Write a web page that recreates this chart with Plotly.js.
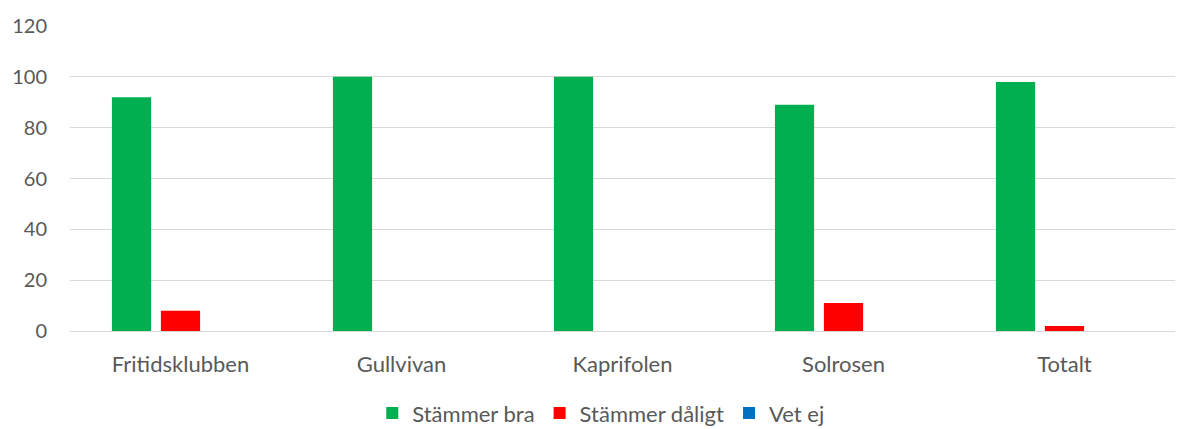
<!DOCTYPE html>
<html><head><meta charset="utf-8">
<script src="https://cdn.plot.ly/plotly-3.0.1.min.js"></script>
<style>html,body{margin:0;padding:0;background:#fff}#chart{width:1178px;height:429px}</style>
</head><body><div id="chart"></div>
<script>
const categories = ["Fritidsklubben", "Gullvivan", "Kaprifolen", "Solrosen", "Totalt"];
const stammerBra = [92, 100, 100, 89, 98];
const stammerDaligt = [8, 0, 0, 11, 2];
const vetEj = [0, 0, 0, 0, 0];
const seriesNames = ["Stämmer bra", "Stämmer dåligt", "Vet ej"];
const seriesColors = ["#00B050", "#FF0000", "#0070C0"];
const yTicks = [0, 20, 40, 60, 80, 100, 120];

const seriesValues = [stammerBra, stammerDaligt, vetEj];
const traces = seriesValues.map((vals, i) => ({
  type: "bar", x: categories, y: vals, name: seriesNames[i],
  marker: {color: seriesColors[i]}, hoverinfo: "none"
}));
const fam = "Lato, 'Open Sans', sans-serif";
const col = "#595959";
Plotly.newPlot("chart", traces, {
  width: 1178, height: 429,
  margin: {l: 70, r: 3, t: 26, b: 98, autoexpand: false},
  paper_bgcolor: "#fff", plot_bgcolor: "#fff",
  font: {family: fam, size: 21, color: col},
  barmode: "group", bargap: 0.335, bargroupgap: 0.2,
  xaxis: {showgrid: false, showline: true, linecolor: "#d9d9d9", linewidth: 1, tickfont: {family: fam, size: 22, color: col}, ticks: "", ticklen: 0, ticklabelstandoff: 14, fixedrange: true, automargin: false},
  yaxis: {range: [0, 120], tickvals: yTicks, showgrid: true, gridcolor: "#d9d9d9", gridwidth: 1, zeroline: false, showline: false, tickfont: {family: fam, size: 20, color: col}, ticklen: 0, ticks: "", ticklabelstandoff: 22, fixedrange: true, automargin: false},
  legend: {orientation: "h", x: 0.51, xref: "container", xanchor: "center", y: 0.037, yref: "container", yanchor: "middle", font: {family: fam, size: 22, color: col}, itemwidth: 30, tracegroupgap: 0},
  showlegend: true
}, {displayModeBar: false, staticPlot: true});
</script></body></html>
